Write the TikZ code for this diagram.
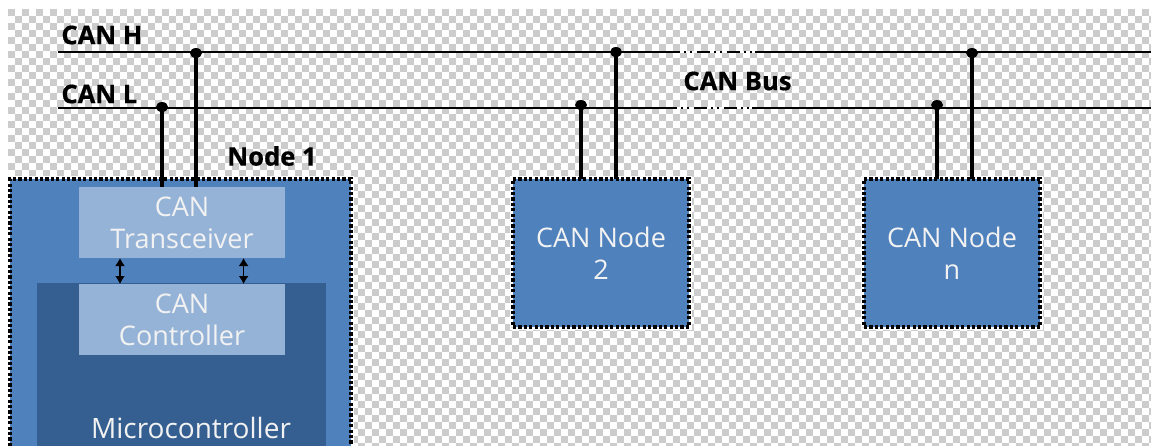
\documentclass[tikz,border=0pt]{standalone}
\usepackage{fontspec}
\setmainfont{Open Sans}
\usepackage{tikz}
\usetikzlibrary{arrows.meta, calc, shapes.geometric}
\definecolor{canblue}{HTML}{4F81BD}
\definecolor{candark}{HTML}{355F91}
\definecolor{canlight}{HTML}{95B3D7}
\definecolor{checker}{HTML}{CCCCCC}
\definecolor{cantext}{HTML}{F2F2F2}
\tikzset{
    bus/.style={line width=0.6pt},
    busgap/.style={line width=0.6pt, dash pattern=on 6.5pt off 2pt on 1pt off 2pt on 1pt off 2.5pt, dash phase=3pt},
    wire/.style={line width=2pt},
    tap/.style={ellipse, fill=black, minimum width=6pt, minimum height=5pt, inner sep=0pt, outer sep=0pt},
    nodebox/.style={fill=canblue, draw=black, line width=1.7pt, dash pattern=on 1.6pt off 1.1pt, preaction={draw=white, solid, line width=3.4pt}, text=cantext, align=center, font=\fontsize{13.5}{16}\selectfont, inner sep=0pt, outer sep=0pt},
    innerbox/.style={fill=canlight, text=cantext, align=center, minimum width=103pt, minimum height=35.5pt, font=\fontsize{13.5}{16}\selectfont, inner sep=0pt, outer sep=0pt},
    buslabel/.style={font=\fontsize{12.8}{14}\selectfont\bfseries\addfontfeature{FakeBold=0.6}, text=black, inner sep=0pt},
    linkarrow/.style={{Latex[width=5pt,length=4pt]}-{Latex[width=5pt,length=4pt]}, line width=0.7pt}
}
\begin{document}
\begin{tikzpicture}[x=0.5pt, y=-0.5pt]
    \clip (0, 0) rectangle (1151, 445);
    \fill[white] (0, 0) rectangle (1151, 445);

    % Background squares
    \foreach \r in {0,...,62} {
        \pgfmathtruncatemacro{\shift}{8 + 7*mod(\r,2)}
        \foreach \c in {0,...,82} {
            \fill[checker] ({\shift + 14*\c}, {9 + 7*\r}) rectangle ++(7, 7);
        }
    }

    % Bus lines
    \coordinate (hstart) at (58, 52);
    \coordinate (hgapa) at (673, 52);
    \coordinate (hgapb) at (755, 52);
    \coordinate (hend) at (1151, 52);
    \coordinate (lstart) at (58, 108);
    \coordinate (lgapa) at (670, 108);
    \coordinate (lgapb) at (752, 108);
    \coordinate (lend) at (1151, 108);
    \draw[bus] (hstart) -- (hgapa);
    \draw[white, line width=1pt] (hgapa) -- (hgapb);
    \draw[busgap] (hgapa) -- (hgapb);
    \draw[bus] (hgapb) -- (hend);
    \draw[bus] (lstart) -- (lgapa);
    \draw[white, line width=1pt] (lgapa) -- (lgapb);
    \draw[busgap] (lgapa) -- (lgapb);
    \draw[bus] (lgapb) -- (lend);

    % Node 1
    \node[nodebox, minimum width=170.5pt, minimum height=140pt, anchor=north west] (node1) at (10, 179) {};
    \node[fill=candark, minimum width=144.5pt, minimum height=90pt, inner sep=0pt, outer sep=0pt, anchor=north west] (micro) at (37, 283) {};
    \node[innerbox, anchor=north west] (transceiver) at (79, 187) {CAN\\Transceiver};
    \node[innerbox, anchor=north west] (controller) at (79, 284) {CAN\\Controller};
    \node[text=cantext, font=\fontsize{14}{16}\selectfont, inner sep=0pt] (microlabel) at (191, 428) {Microcontroller};

    % Other nodes
    \node[nodebox, minimum width=88pt, minimum height=74pt, anchor=north west] (node2) at (513, 179) {CAN Node\\2};
    \node[nodebox, minimum width=88pt, minimum height=74pt, anchor=north west] (noden) at (864, 179) {CAN Node\\n};

    % Taps on the bus
    \node[tap] (l1) at (162, 107) {};
    \node[tap] (h1) at (196, 53) {};
    \node[tap] (l2) at (581, 105) {};
    \node[tap] (h2) at (616, 52) {};
    \node[tap] (ln) at (937, 105) {};
    \node[tap] (hn) at (972, 53) {};
    \draw[wire] (l1.center) -- (l1.center |- transceiver.north);
    \draw[wire] (h1.center) -- (h1.center |- transceiver.north);
    \draw[wire] (l2.center) -- (l2.center |- node2.north);
    \draw[wire] (h2.center) -- (h2.center |- node2.north);
    \draw[wire] (ln.center) -- (ln.center |- noden.north);
    \draw[wire] (hn.center) -- (hn.center |- noden.north);

    % Transceiver to controller
    \draw[linkarrow] ([xshift=-31pt]transceiver.south) -- ([xshift=-31pt]controller.north);
    \draw[linkarrow] ([xshift=30.8pt]transceiver.south) -- ([xshift=30.8pt]controller.north);

    % Labels
    \node[buslabel, anchor=west] (canh) at (61, 35) {CAN H};
    \node[buslabel, anchor=west] (canl) at (61, 94) {CAN L};
    \node[buslabel, anchor=west] (canbus) at (683, 81) {CAN Bus};
    \node[buslabel, anchor=west] (node1label) at (227, 156) {Node 1};
\end{tikzpicture}
\end{document}
